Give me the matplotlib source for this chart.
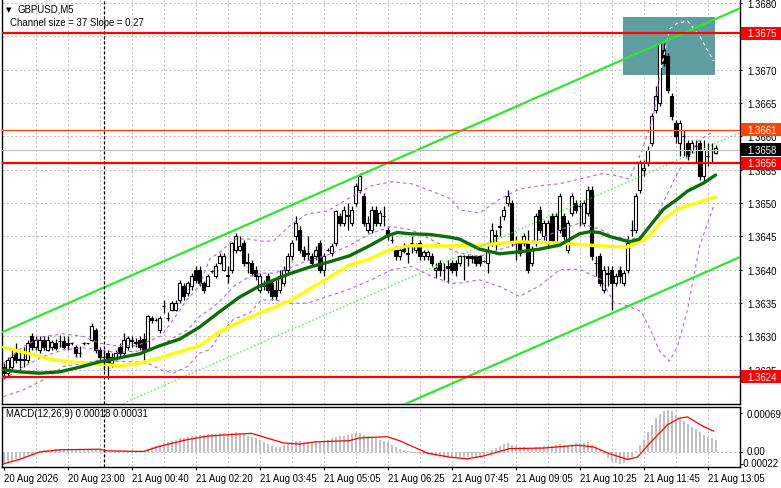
import numpy as np
import matplotlib
matplotlib.use('Agg')
import matplotlib.pyplot as plt
from matplotlib.patches import Rectangle
from matplotlib.transforms import blended_transform_factory, ScaledTranslation

plt.rcParams['font.family'] = ['Liberation Sans', 'DejaVu Sans']

# ---- data (prices in pips above 1.3600) ----
BASE = 1.3600

opens = [25.5, 24.5, 25.5, 27.5, 26.5, 26.6, 26.5, 30, 28.5, 28,
         29.5, 28, 28.5, 29, 29.3, 29.3, 29, 29, 28.5, 27.6,
         29, 29, 29.5, 31, 28, 27, 27.5, 26, 27, 28.5,
         27.5, 28.5, 29.5, 29, 29.5, 29.6, 28, 32.7, 32.5, 31,
         34.5, 32.8, 34, 34, 35.5, 37.5, 36.5, 37.5, 40, 40,
         38, 37.5, 39.8, 39, 41, 40, 39, 40, 43, 43,
         44, 41.2, 41, 40, 37, 37.5, 39, 38, 37,
         37, 38, 40, 42, 45, 46, 43, 42.5, 42, 42,
         44, 40, 43, 42.5, 44, 48, 47, 48, 47, 50,
         52, 51, 46, 46, 49, 47, 48, 46, 44.5, 43,
         42, 43.5, 42.5, 44, 43, 44, 42, 42, 42, 40,
         41, 40, 40.5, 41, 41, 41, 42, 42, 42, 42,
         42, 41.3, 41, 44, 45, 46.5, 48, 50, 50, 44,
         44, 44, 44, 41, 44, 49, 45, 44, 48, 44,
         46, 48, 43, 48.5, 50, 49.5, 47, 48.5, 52, 41,
         42, 37, 39.5, 40, 38, 40, 38, 40, 46, 46,
         52, 55, 56, 59, 64, 65, 73, 72, 66, 62,
         59, 60, 59, 58, 58.5, 59, 54, 57, 58, 57.5]
highs = [26, 27, 28, 29, 28, 28.5, 29.5, 30.5, 30, 30,
         30, 30, 29.5, 29.7, 30.2, 30, 30, 29.2, 28.8, 28.6,
         29.2, 29.1, 32, 31.2, 28.5, 28, 28, 27.5, 28, 29,
         30.5, 30, 30, 29.8, 30, 30.5, 33.2, 33, 32.7, 33,
         35.5, 33.6, 35.3, 35.5, 38.5, 38, 38.3, 39.5, 40.5, 40.5,
         38.3, 39.3, 40, 41, 42.5, 42.5, 40.5, 44.2, 45.5, 45,
         44.5, 42.5, 41.5, 40.5, 39.5, 38.5, 39.5, 38.5, 38.5,
         40, 40.5, 42.5, 44.5, 48, 46.5, 43.5, 45, 42.5, 43.5,
         44.5, 42.5, 43.2, 44, 49, 48.5, 49.5, 50, 49.5, 53,
         54.5, 51.5, 48, 49.5, 49.5, 49, 49.5, 46.5, 45, 43.5,
         43.5, 44, 43.5, 45, 44, 44.5, 43, 43, 42.5, 41,
         41.5, 41, 41.5, 41.5, 41.5, 42.2, 42.2, 42.2, 42.2, 42.2,
         42.2, 41.5, 43.5, 47, 46, 48, 49.5, 52, 50.5, 45,
         44.5, 45.5, 46, 43.5, 48.5, 49.5, 47.5, 47.5, 48.5, 48.5,
         51.5, 48.5, 47.5, 51.5, 50.5, 50.5, 50.5, 52.5, 52.5, 42,
         42.5, 40.5, 40.5, 40.5, 39.5, 40.5, 40, 45, 47.5, 51.5,
         56.5, 56.5, 58.5, 63.5, 67.5, 74.2, 74, 72.5, 66.5, 62.5,
         62.5, 61, 59.5, 59.5, 59.5, 59.5, 59.5, 59, 59, 58.7]
lows = [23.6, 24, 25, 26, 25, 25.5, 26, 28, 28, 27.5,
        28, 27.8, 28, 28, 28.5, 28.2, 28, 28.8, 27, 27,
        28.8, 28.9, 29.3, 27.5, 26.5, 25, 23.6, 25.5, 26.5, 27,
        27, 28, 28.5, 28.5, 28, 26, 27.8, 32, 32.3, 30.5,
        33.5, 32.3, 33.8, 33.8, 35, 35.5, 36, 37, 38, 37.5,
        36.5, 37.5, 39.5, 38.8, 40.8, 39.8, 38, 39.5, 42.5, 42.8,
        40.5, 39.5, 39, 38.5, 36.5, 37, 36.5, 35.5, 35.5,
        36.5, 37.5, 39.5, 41.5, 44.5, 42.5, 41.5, 41.5, 40.5, 41.5,
        39.5, 39, 42.8, 42, 43.5, 46.5, 46.5, 46, 46.5, 49.5,
        51.5, 46.5, 45.5, 45.5, 46.5, 46.5, 46.5, 44.5, 44, 41.5,
        41.5, 42.5, 41, 42.5, 42.5, 41.5, 41.5, 41.5, 40.5, 38.8,
        39, 38.5, 38, 39.5, 39, 40.5, 38.5, 40.5, 41, 40.5,
        40.5, 41.1, 39.5, 43.5, 43, 45, 47.5, 49.5, 43.5, 41.5,
        42, 43.5, 39.5, 40.5, 43.5, 45.5, 44.5, 43.5, 44, 43.5,
        45.5, 44.5, 42.5, 48, 48.5, 46.5, 46.5, 48, 41.5, 39,
        37.5, 36.5, 37.5, 34, 37.5, 38, 37.5, 39.5, 45, 45.5,
        51.5, 54, 55.5, 58.5, 63.5, 64.5, 70.5, 66.5, 62.5, 59,
        57, 57, 56.5, 57.5, 56, 53.5, 53, 55.5, 56, 57.3]
closes = [24.5, 26.5, 27, 26.5, 26.6, 26.5, 29, 28.5, 29.5, 29.5,
          28.5, 29.5, 29.2, 28.3, 29.3, 28.5, 28.7, 29, 27.5, 27.5,
          29, 29, 31.5, 28, 27, 27, 25.7, 27, 27.5, 27.5,
          29.5, 29.8, 29.4, 29.2, 28.5, 27.8, 33, 32.5, 32.4, 32.8,
          34.6, 32.8, 35, 35, 38, 36, 38, 39, 38.5, 38,
          37, 39, 39.8, 40.5, 42, 42, 39.2, 44, 45, 43.6,
          41, 41, 39.5, 39, 39, 38, 37, 36, 36,
          39, 40, 42, 44, 47, 43, 42, 42.3, 41, 43,
          40, 42, 43, 43.5, 48.8, 47, 49, 48.2, 49, 52.5,
          54, 47, 47, 49, 47, 48.5, 48, 45, 44.5, 42,
          43, 42.8, 42.4, 44, 43.5, 42, 42.6, 42.6, 41, 40.2,
          40, 40, 40.3, 40, 40, 42, 42, 41.8, 41.8, 41,
          41, 41.3, 43, 46, 45.2, 46.4, 49, 51, 44, 44,
          42.5, 45, 40, 43, 48, 46, 47, 47, 44.5, 48,
          51, 45, 47, 51, 49, 49.5, 50, 52, 42, 41,
          38, 40, 39.4, 38, 39, 39, 39.5, 44, 46, 51,
          56, 55.2, 58, 63, 66, 74, 71, 67, 63, 60,
          62, 60, 57, 59, 58.5, 54, 58, 57, 58, 58.2]

# moving averages (bar position, pips)
ma_fast_bar = [0, 4, 9, 14, 19, 24, 29, 34, 39, 44, 49, 54, 59, 63.5, 66.5, 71.5,
               76.5, 81.5, 86.5, 91.5, 96, 98.5, 101.5, 106.5, 111.5, 114, 119,
               124, 129, 134, 139, 144, 146.5, 149, 151.5, 156.5, 159, 161.5,
               165, 168.5, 171, 175, 178]
ma_fast = [25.0, 24.7, 24.5, 24.7, 25.4, 26.2, 26.8, 27.4, 28.6, 29.6, 31.4, 33.7,
           35.9, 37.4, 38.2, 39.4, 40.4, 41.2, 42.1, 43.6, 45.1, 45.6, 45.4, 45.3,
           44.9, 44.6, 43.1, 42.4, 42.7, 43.1, 43.7, 45.4, 45.7, 45.6, 45.0, 44.2,
           44.6, 46.5, 49.1, 50.6, 51.8, 53.0, 54.2]
ma_slow_bar = [0, 6.5, 11.5, 16.5, 24, 29, 34, 39, 44, 49, 54, 59, 64, 71.5, 76.5,
               81.5, 86.5, 91.5, 96.5, 101.5, 111.5, 119, 129, 139, 149, 156, 159,
               161.5, 165, 168.5, 172.5, 178]
ma_slow = [28.4, 27.4, 26.6, 26.2, 25.9, 25.6, 26.0, 26.8, 27.7, 28.6, 30.7, 32.2,
           33.5, 35.3, 37.1, 38.9, 40.7, 41.6, 43.0, 43.6, 43.6, 43.7, 44.2, 44.0,
           43.6, 43.4, 44.2, 45.1, 47.6, 49.1, 49.9, 50.9]

# bollinger bands (bar position, pips)
bb_bar = [0, 5, 10, 15, 20, 24, 28, 33, 36, 39.5, 42.5, 46, 49, 51.5, 54.5, 57.5,
          61.5, 64.5, 67.5, 71.5, 76, 81, 86, 92, 97, 102, 107, 112, 114, 119,
          124, 129, 134, 139, 144, 149.5, 152.5, 156.5, 159.5, 162.5, 164, 166.5,
          168.5, 171, 174, 177.5]
bb_upper = [26.0, 28.5, 30.0, 30.4, 30.0, 29.0, 28.6, 28.6, 29.2, 30.1, 32.6, 35.6,
            37.6, 41.6, 42.8, 44.6, 44.6, 44.3, 44.3, 46.6, 48.4, 48.8, 50.6, 52.6,
            53.2, 52.9, 51.8, 50.6, 49.0, 48.5, 50.6, 52.1, 52.6, 52.9, 53.6, 54.4,
            54.2, 53.6, 57.7, 63.0, 69.0, 76.1, 77.0, 77.3, 75.1, 71.3]
bb_mid = [23.5, 25.5, 27.0, 28.0, 28.3, 28.0, 27.6, 27.8, 28.0, 28.8, 29.8, 31.0,
          33.0, 34.0, 35.5, 37.5, 39.0, 39.5, 39.5, 40.2, 41.4, 42.2, 43.5, 45.5,
          46.5, 46.0, 44.5, 43.0, 42.5, 42.0, 43.0, 44.0, 44.5, 46.0, 47.0, 46.0,
          45.0, 44.5, 45.0, 47.0, 49.0, 52.0, 54.5, 57.0, 59.5, 60.7]
bb_lower = [21.0, 22.0, 23.5, 25.5, 26.0, 26.5, 26.3, 26.2, 26.0, 25.0, 24.5, 25.5,
            27.5, 28.0, 30.6, 32.6, 33.5, 35.5, 35.5, 35.0, 35.0, 36.0, 37.0, 38.5,
            40.0, 40.5, 39.0, 38.0, 38.0, 38.5, 37.5, 36.0, 37.6, 40.0, 40.1, 38.5,
            35.2, 34.5, 33.7, 30.0, 27.8, 26.3, 28.5, 34.0, 43.5, 49.5]

# regression channel: upper line end points (bar, pips) and width in pips
channel_bar = [-0.9, 186.0]
channel_upper = [30.5, 79.7]
channel_size = 37.3

# analyst box (bars, pips)
box_bars = [154.9, 177.9]
box_pips = [69.2, 77.9]

# horizontal levels
level_prices = [1.36755, 1.3661, 1.3658, 1.3656, 1.3624]
level_text = ['1.3675', '1.3661', '1.3658', '1.3656', '1.3624']

crosshair_bar = 25

# MACD histogram, units of 1e-5
macd_hist = [-20, -18, -16, -13, -11, -9, -6, -4, -2,
             1, 3, 4, 4, 5,
             5, 5, 5, 4, 4, 3, 3, 3, 4, 4, 3,
             2, 0, 0, 1, 1, 1, 2, 2, 2, 2, 1,
             6, 9, 11, 13, 16,
             18, 20, 22, 24, 25, 27, 28,
             29, 30, 30, 31, 31, 32, 33, 33,
             32, 34, 35, 34, 31, 29, 27,
             24, 22, 18, 14,
             11, 9, 9,
             12, 15, 18, 20, 19, 18, 18, 17, 18,
             19, 20, 21, 24, 27, 28,
             29, 30, 31, 33, 34, 30,
             28, 27, 25, 22, 20, 17,
             12, 8, 5, 3,
             1, -1, -2, -3,
             -4, -5, -6, -7, -8, -9, -9, -9, -9, -8, -8, -8, -8, -9, -8,
             -5, -1, 3, 7,
             10, 14, 16, 12,
             10, 8, 8, 6, 6, 8, 8,
             10, 11, 11, 12, 14, 13, 13, 15, 16, 16,
             16, 18, 12, 8, 3,
             -4, -10, -16, -19, -21, -20, -14,
             -8, 2, 12,
             22, 35, 48, 60, 68, 72,
             74, 72, 66, 60,
             55, 49, 44, 40, 35, 30, 27, 24, 21]
signal_bar = [0, 4, 9, 14, 24, 26, 35, 39, 46, 51, 57, 62, 70, 74, 78, 86.5, 89,
              96, 99, 106, 111.5, 116, 120, 126.5, 135, 143.5, 147.5, 151.5, 156,
              158.5, 161.5, 166, 169, 171, 175, 177.5]
signal_val = [-21, -13, 0, 4, 5, 2, 1, 10, 22, 28, 31, 33, 16, 14, 18, 20, 25,
              27, 20, -2, -9, -12, -7, 6, 7, 12, 9, -3, -13, -9, 15, 48, 60, 62,
              45, 37]

time_labels = ['20 Aug 2026', '20 Aug 23:00', '21 Aug 00:40', '21 Aug 02:20',
               '21 Aug 03:45', '21 Aug 05:05', '21 Aug 06:25', '21 Aug 07:45',
               '21 Aug 09:05', '21 Aug 10:25', '21 Aug 11:45', '21 Aug 13:05']


def price(p):
    return BASE + np.asarray(p, dtype=float) / 10000.0


W, H = 781, 489
fig = plt.figure(figsize=(W / 100, H / 100), dpi=100)
ax = fig.add_axes([2 / W, 1 - 405 / H, 738 / W, 404 / H])
ax2 = fig.add_axes([2 / W, 1 - 468 / H, 738 / W, 60 / H])

n = len(closes)
bars = np.arange(n)
o, hi, lo, c = price(opens), price(highs), price(lows), price(closes)

xl = (-0.375, 184.125)
GRID = dict(color='#c0c0c0', lw=0.7, ls=(0, (2.2, 2.2)), zorder=0)
FS = 6.9

for a in (ax, ax2):
    a.set_xlim(*xl)
    for b in range(8, 185, 8):
        a.axvline(b, **GRID)
    for s in a.spines.values():
        s.set_color('black')
        s.set_linewidth(1)
    a.axvline(crosshair_bar, color='black', lw=0.9, ls=(0, (2.5, 1.5)), zorder=9)

# ---------- main panel ----------
ax.set_ylim(price(19.88), price(80.45))
ax.spines['top'].set_visible(False)
grid_prices = np.round(np.arange(1.3625, 1.36801, 0.0005), 4)
for g in grid_prices:
    ax.axhline(g, **GRID)

box = Rectangle((box_bars[0], price(box_pips[0])), box_bars[1] - box_bars[0],
                price(box_pips[1]) - price(box_pips[0]),
                facecolor='#5f9ea0', edgecolor='none', zorder=1)
ax.add_patch(box)

# bollinger bands
bb_style = dict(color='#b463dc', lw=0.8, ls=(0, (3, 3)), zorder=5)
ax.plot(bb_bar, price(bb_upper), **bb_style)
ax.plot(bb_bar, price(bb_mid), **bb_style)
ax.plot(bb_bar, price(bb_lower), **bb_style)
wl, = ax.plot(bb_bar, price(bb_upper), color='white', lw=0.8, ls=(0, (3, 3)), zorder=5.5)
wl.set_clip_path(box)

# candles
up = c >= o
ax.vlines(bars, lo, hi, color='black', lw=0.9, zorder=3)
ax.bar(bars, np.abs(c - o), bottom=np.minimum(o, c), width=0.6,
       color=np.where(up, 'white', 'black'), edgecolor='black', linewidth=0.8, zorder=4)

# moving averages
ax.plot(ma_slow_bar, price(ma_slow), color='#ffff00', lw=2.4, zorder=6, solid_capstyle='round')
ax.plot(ma_fast_bar, price(ma_fast), color='#0b6e0b', lw=2.4, zorder=7, solid_capstyle='round')

# channel
up_line = np.array(channel_upper)
ax.plot(channel_bar, price(up_line), color='#2ee62e', lw=1.6, zorder=8)
ax.plot(channel_bar, price(up_line - channel_size), color='#2ee62e', lw=1.6, zorder=8)
ax.plot(channel_bar, price(up_line - channel_size / 2), color='#2ee62e', lw=0.9,
        ls=(0, (1, 2)), zorder=8)

# horizontal levels
line_cols = ['#ff0000', '#ff4500', '#c0c0c0', '#ff0000', '#ff0000']
line_w = [1.6, 0.9, 0.8, 1.6, 1.6]
box_cols = ['#ff0000', '#ff4500', '#000000', '#ff0000', '#ff0000']
for p, col, lw in zip(level_prices, line_cols, line_w):
    ax.axhline(p, color=col, lw=lw, zorder=10)

# price scale (the 1.3675 grid label sits fully under its level box)
ax.yaxis.tick_right()
ax.set_yticks(grid_prices)
ax.set_yticklabels(['' if abs(g - 1.3675) < 1e-6 else '%.4f' % g for g in grid_prices])
ax.tick_params(axis='y', length=1.5, pad=3.5, labelsize=FS, right=True, left=False)
ax.tick_params(axis='x', bottom=False, labelbottom=False)

trans = blended_transform_factory(fig.transFigure, ax.transData)
half = 6.5 / 6.67 / 10000.0
for p, t, bc in zip(level_prices, level_text, box_cols):
    ax.add_patch(Rectangle((741 / W, p - half), 40 / W, 2 * half, transform=trans,
                           facecolor=bc, edgecolor='none', zorder=20, clip_on=False))
    ax.text(747 / W, p, t, transform=trans, color='white', fontsize=FS,
            va='center', ha='left', zorder=21, clip_on=False)

# ---------- MACD panel ----------
ax2.set_ylim(-0.000265, 0.000796)
ax2.axhline(0, **GRID)
ax2.bar(bars, np.array(macd_hist) * 1e-5, width=0.5, color='#c0c0c0', zorder=2)
ax2.plot(signal_bar, np.array(signal_val) * 1e-5, color='#ff0000', lw=0.9, zorder=3)
ax2.yaxis.tick_right()
ax2.set_yticks([0.00069, 0.0, -0.00022])
ax2.set_yticklabels(['0.00069', '0.00', '-0.00022'])
ax2.tick_params(axis='y', length=1.5, pad=3.5, labelsize=FS, right=True, left=False)
ylabs = ax2.get_yticklabels()
ylabs[1].set_transform(ylabs[1].get_transform() + ScaledTranslation(0, 2 / 100, fig.dpi_scale_trans))
ylabs[2].set_transform(ylabs[2].get_transform() + ScaledTranslation(-6 / 100, 2 / 100, fig.dpi_scale_trans))

ticks = np.arange(len(time_labels)) * 16
ax2.set_xticks(ticks)
ax2.set_xticklabels(time_labels, ha='left')
ax2.tick_params(axis='x', length=2, pad=2, labelsize=FS)

# ---------- texts ----------
fig.text(6 / W, 1 - 10 / H, '\u25bc', fontsize=5, va='center', family='DejaVu Sans')
fig.text(17 / W, 1 - 10 / H, 'GBPUSD,M5', fontsize=FS, va='center')
fig.text(10 / W, 1 - 23 / H, 'Channel size = 37 Slope = 0.27', fontsize=FS, va='center')
fig.text(6 / W, 1 - 414 / H, 'MACD(12,26,9) 0.00018 0.00031', fontsize=FS, va='center')

fig.savefig('out.png', dpi=100)
